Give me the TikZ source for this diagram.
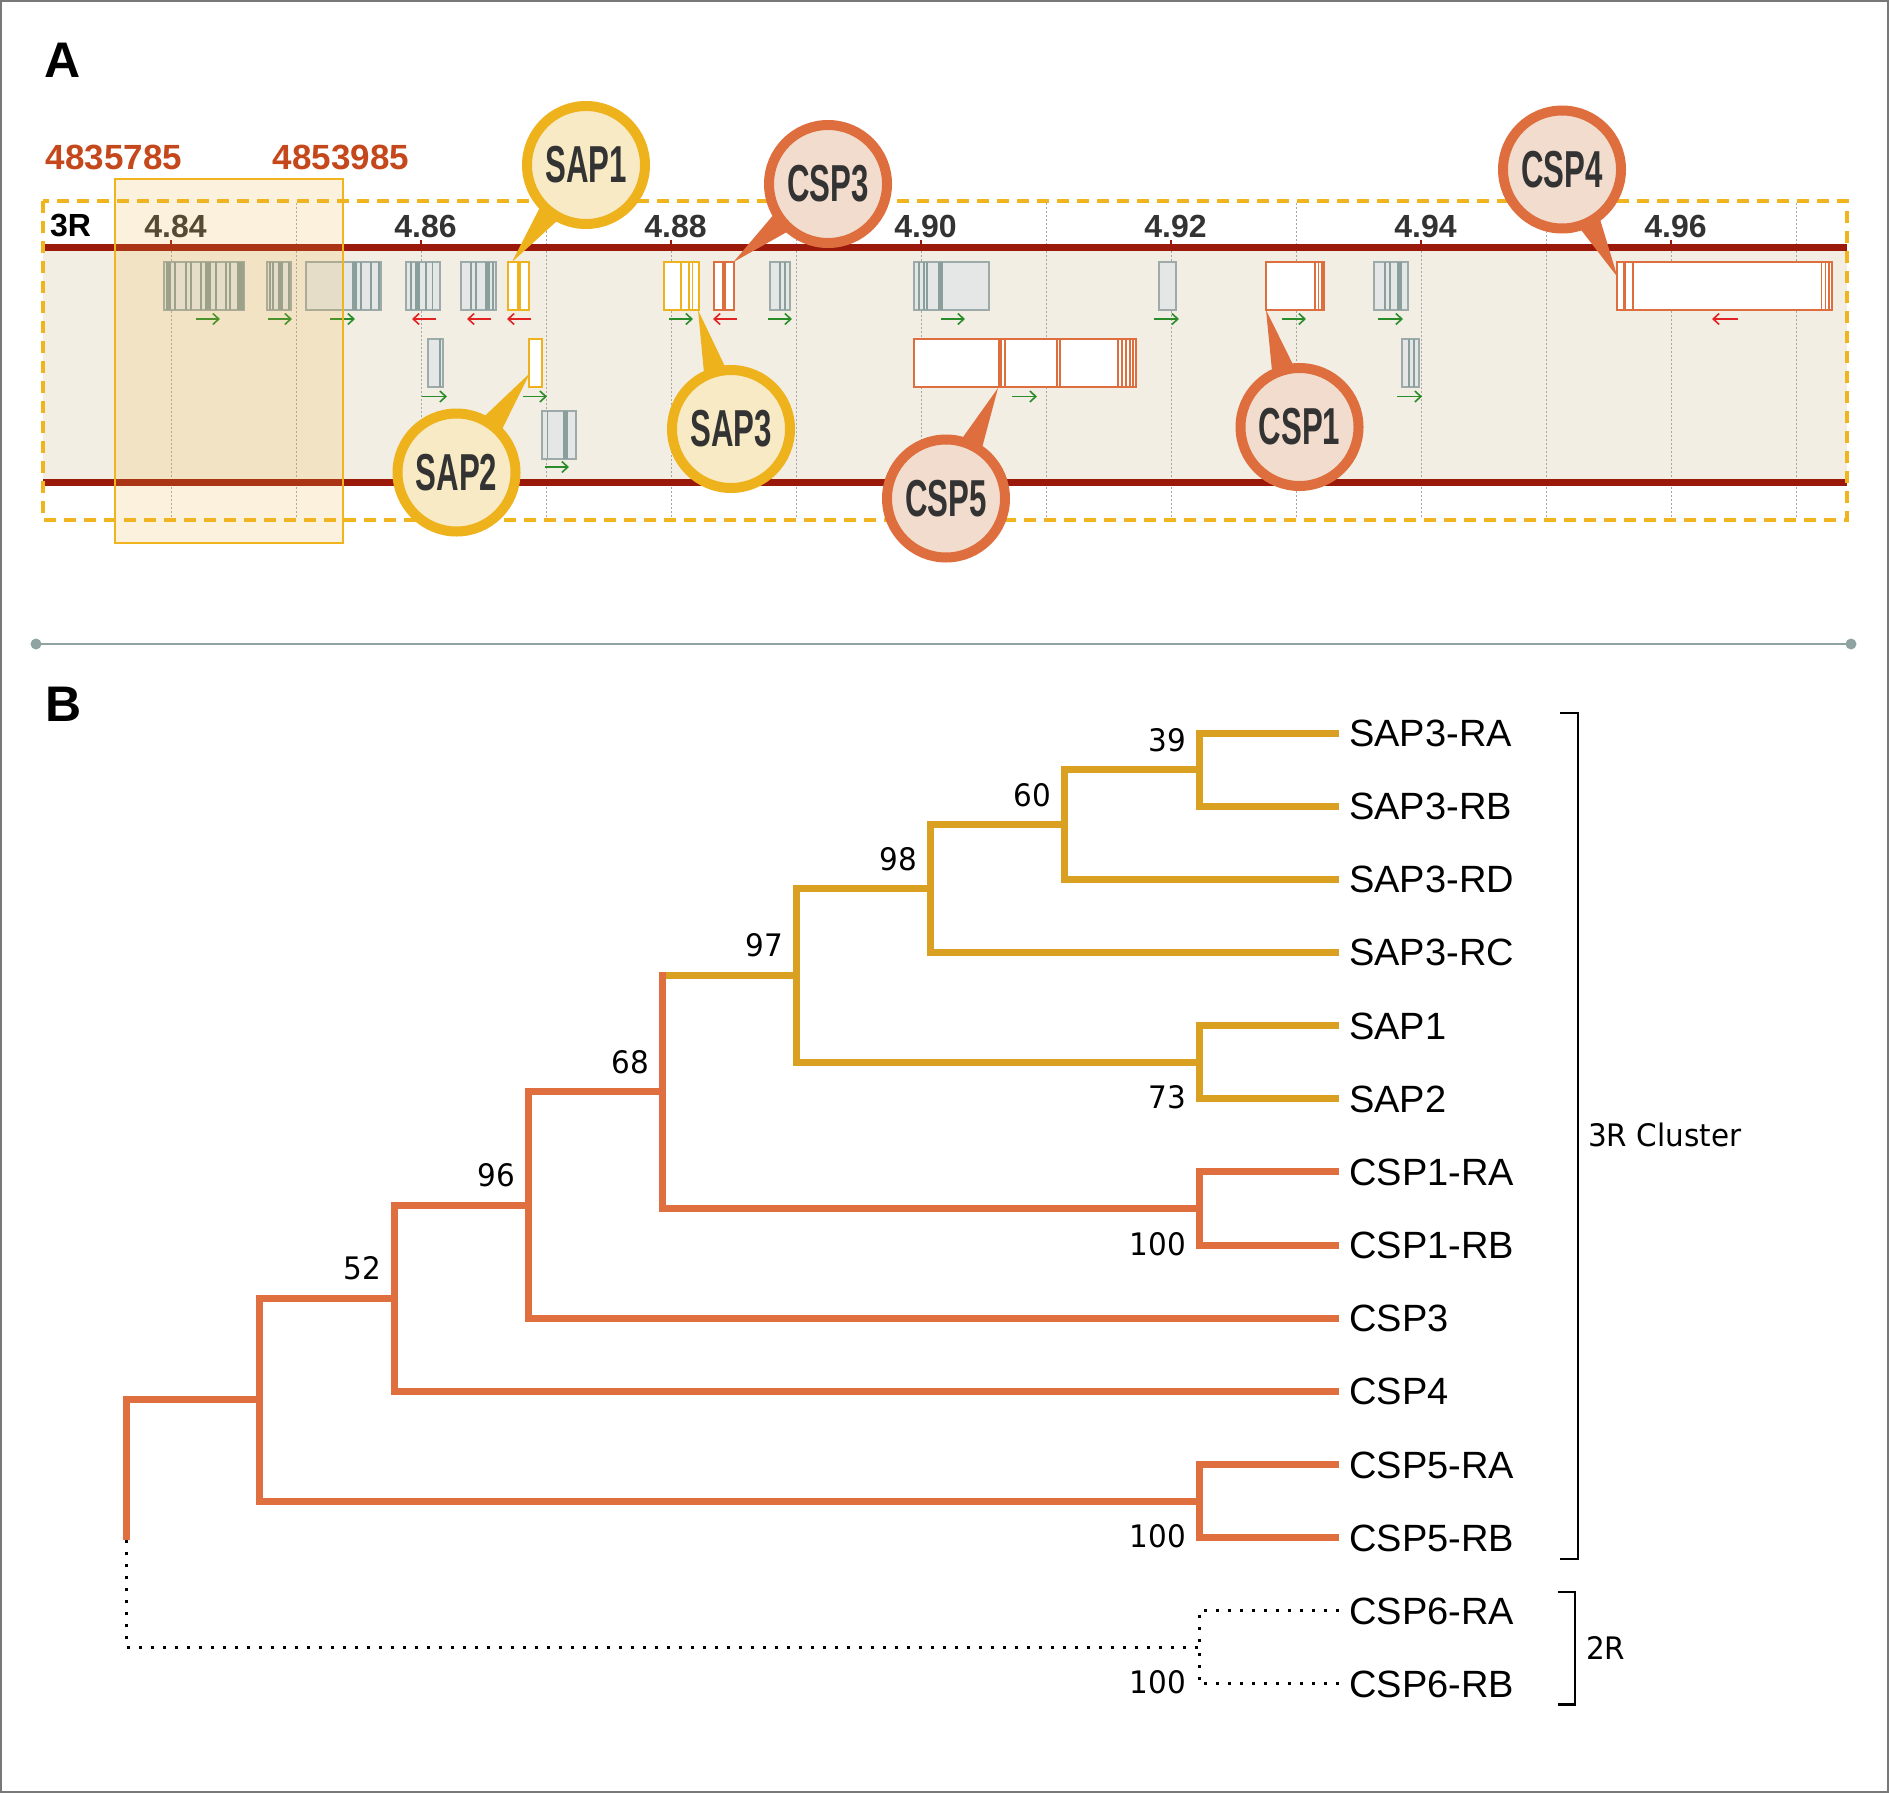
\documentclass[tikz,border=0pt]{standalone}
\usepackage{fontspec}
\usetikzlibrary{calc,arrows.meta}
\setmainfont{Liberation Sans}
\newfontfamily\condfont[FakeStretch=0.6]{Liberation Sans}
\newfontfamily\bootfam[FakeStretch=0.95]{DejaVu Sans}

\definecolor{framegray}{RGB}{120,120,120}
\definecolor{gridgray}{RGB}{165,165,165}
\definecolor{chromred}{RGB}{155,25,10}
\definecolor{dashgold}{RGB}{240,180,30}
\definecolor{beige}{RGB}{243,238,228}
\definecolor{hlgold}{RGB}{240,180,60}
\definecolor{sapgold}{RGB}{238,178,28}
\definecolor{sapfill}{RGB}{247,234,196}
\definecolor{cspor}{RGB}{222,110,62}
\definecolor{cspfill}{RGB}{242,220,205}
\definecolor{genegray}{RGB}{229,231,231}
\definecolor{geneline}{RGB}{157,170,170}
\definecolor{stripegray}{RGB}{138,158,156}
\definecolor{arrgreen}{RGB}{40,140,40}
\definecolor{arrred}{RGB}{225,35,35}
\definecolor{posred}{RGB}{196,72,28}
\definecolor{darktext}{RGB}{51,51,51}
\definecolor{treegold}{RGB}{217,160,33}
\definecolor{treeorange}{RGB}{223,111,63}
\definecolor{sepgray}{RGB}{143,163,160}

\newcommand{\ballfont}{\condfont\bfseries\fontsize{52}{52}\selectfont}
\newcommand{\tickfont}{\bfseries\fontsize{32}{32}\selectfont}
\newcommand{\posfont}{\bfseries\fontsize{35}{35}\selectfont}
\newcommand{\panelfont}{\bfseries\fontsize{50}{50}\selectfont}
\newcommand{\leaffont}{\fontsize{38}{38}\selectfont}
\newcommand{\bootfont}{\bootfam\fontsize{31}{31}\selectfont}

% balloon with a tail pointing at a gene
\newcommand{\callout}[5]{%
  \coordinate (#1c) at (#3);
  \fill[#2ring] let \p1=($(#4)-(#1c)$), \n1={atan2(\y1,\x1)} in
    (#4) -- ($(#1c)+(\n1+11:60pt)$) -- ($(#1c)+(\n1-11:60pt)$) -- cycle;
  \node[#2ball] (#1) at (#1c) {#5};
}

\tikzset{
  gbox/.style={draw=geneline, fill=genegray, line width=1.5pt},
  sapgene/.style={draw=sapgold, fill=white, line width=2pt},
  cspgene/.style={draw=cspor, fill=white, line width=2pt},
  fwd/.style={arrgreen, line width=1.6pt, -{Straight Barb[length=6pt,width=11pt]}},
  rev/.style={arrred, line width=1.6pt, -{Straight Barb[length=6pt,width=11pt]}},
  grid/.style={gridgray, line width=0.8pt, dash pattern=on 2pt off 2pt},
  ball/.style={circle, line width=10pt, minimum size=118pt, inner sep=0pt, font=\ballfont, text=darktext},
  sapball/.style={ball, draw=sapgold, fill=sapfill},
  cspball/.style={ball, draw=cspor, fill=cspfill},
  sapring/.style={fill=sapgold},
  cspring/.style={fill=cspor},
  sapbr/.style={treegold, line width=7pt, line join=miter},
  cspbr/.style={treeorange, line width=7pt, line join=miter},
  outbr/.style={black, line width=3pt, dash pattern=on 3pt off 9pt},
  leaf/.style={anchor=west, inner xsep=10pt, inner ysep=0pt, font=\leaffont, text height=27pt, text depth=0pt},
  bootl/.style={anchor=east, inner sep=0pt, font=\bootfont, text height=23pt, text depth=0pt},
  brk/.style={black, line width=2.5pt},
  clab/.style={anchor=west, inner sep=0pt, font=\bootfont}
}

\begin{document}
\begin{tikzpicture}[x=1pt,y=-1pt]
    \useasboundingbox (0,0) rectangle (1889,1793);
    \draw[framegray, line width=2pt] (1,1) rectangle (1888,1792);

    % ---- panel A ----
    \node[font=\panelfont] (labA) at (63,60) {A};

    \fill[beige] (43,251) rectangle (1847,479);
    \foreach \x in {296,546,...,1796}
        \draw[grid] (\x,203) -- (\x,518);
    \foreach \x in {171,421,...,1671} {
        \draw[grid] (\x,251) -- (\x,518);
        \draw[chromred, line width=1.5pt] (\x,240) -- (\x,247);
    }
    \draw[chromred, line width=7pt] (43,247.5) -- (1847,247.5);
    \draw[chromred, line width=7pt] (43,482) -- (1847,482);
    \draw[dashgold, line width=4pt, dash pattern=on 12pt off 8pt] (43,201) rectangle (1847,520);

    % genes
    \foreach \a/\b/\yy in {164/244/262, 267/291/262, 306/381/262, 406/440/262, 461/496/262,
        770/790/262, 914/989/262, 1159/1176/262, 1374/1408/262, 428/443/339, 1402/1419/339, 542/576/411}
        \draw[gbox] (\a,\yy) rectangle (\b,\yy+48);
    \foreach \s/\w/\yy in {166/5/262, 174/1.5/262, 185/1.5/262, 190/1.5/262, 200/1.5/262, 205/6/262,
        215/1.5/262, 225/1.5/262, 229/1.5/262, 237/7/262, 269/1.5/262, 272/1.5/262, 278/5/262,
        288/1.5/262, 352/5/262, 360/1.5/262, 370/2/262, 378/1.5/262, 410/1.5/262, 415/5/262,
        425/2/262, 431.5/1.5/262, 470/1.5/262, 475/1.5/262, 485/5/262, 492/1.5/262,
        779/1.5/262, 784/1.5/262, 918/1.5/262, 923/1.5/262, 926/1.5/262, 938/5/262,
        1384/1.5/262, 1389/1.5/262, 1397/5/262, 439/1.5/339, 1408/1.5/339, 1413/1.5/339,
        546.5/1.5/411, 563/4.5/411}
        \fill[stripegray] (\s,\yy) rectangle ++(\w,48);

    \draw[sapgene] (508,262) rectangle (529,310);
    \draw[sapgene] (529,339) rectangle (542,387);
    \draw[sapgene] (664,262) rectangle (699,310);
    \draw[cspgene] (714,262) rectangle (734,310);
    \draw[cspgene] (914,339) rectangle (1136,387);
    \draw[cspgene] (1266,262) rectangle (1324,310);
    \draw[cspgene] (1617,262) rectangle (1832,310);
    \foreach \s/\w in {516.5/4, 680/1.5, 688/1.5, 691.5/1.5}
        \fill[sapgold] (\s,262) rectangle ++(\w,48);
    \foreach \s/\w/\yy in {721.5/4.5/262, 998/4/339, 1004/1.5/339, 1056/1.5/339, 1059/1.5/339,
        1117/1.5/339, 1121/1.5/339, 1125/1.5/339, 1129/1.5/339, 1132/1.5/339,
        1314/1.5/262, 1317.5/1.5/262, 1321/1.5/262, 1623/3/262, 1632/1.5/262,
        1820.5/1.5/262, 1824.5/1.5/262, 1828/1.5/262}
        \fill[cspor] (\s,\yy) rectangle ++(\w,48);

    % strand arrows
    \foreach \a/\b/\y in {196/220/319, 268/292/319, 330/355/319, 669/693/319, 768/792/319,
        941/965/319, 1154/1179/319, 1282/1306/319, 1378/1403/319, 422/447/396.5,
        523/547/396.5, 1012/1037/396.5, 1397/1422/396.5, 545/569/467}
        \draw[fwd] (\a,\y) -- (\b,\y);
    \foreach \a/\b/\y in {436/412/319, 491/467/319, 531/507/319, 737/713/319, 1738/1712/319}
        \draw[rev] (\a,\y) -- (\b,\y);

    % axis labels
    \node[font=\tickfont, anchor=west, inner sep=0pt] (chr) at (50,226) {3R};
    \foreach \lab [count=\i from 0] in {4.84,4.86,4.88,4.90,4.92,4.94,4.96}
        \node[font=\tickfont, text=darktext, inner sep=0pt] (tick\i) at (175.5+250*\i,226) {\lab};

    % selected window
    \filldraw[fill=hlgold, fill opacity=0.18, draw=dashgold, line width=2pt] (115,179) rectangle (343,543);
    \node[font=\posfont, text=posred, inner sep=0pt] (posL) at (114,157) {4835785};
    \node[font=\posfont, text=posred, inner sep=0pt] (posR) at (341,157) {4853985};

    % callouts
    \coordinate (sap1tip) at (512,262);
    \coordinate (sap2tip) at (530,373);
    \coordinate (sap3tip) at (698,310);
    \coordinate (csp3tip) at (733.5,262);
    \coordinate (csp5tip) at (998,388);
    \coordinate (csp1tip) at (1266,310);
    \coordinate (csp4tip) at (1617.5,277);
    \callout{sap1}{sap}{586,165}{sap1tip}{SAP1}
    \callout{sap2}{sap}{456.5,472.5}{sap2tip}{SAP2}
    \callout{sap3}{sap}{731,429}{sap3tip}{SAP3}
    \callout{csp3}{csp}{828,184}{csp3tip}{CSP3}
    \callout{csp5}{csp}{946,498.5}{csp5tip}{CSP5}
    \callout{csp1}{csp}{1299.5,427}{csp1tip}{CSP1}
    \callout{csp4}{csp}{1562,169.5}{csp4tip}{CSP4}

    % ---- separator ----
    \coordinate (sepL) at (36,644);
    \coordinate (sepR) at (1851,644);
    \draw[sepgray, line width=2.5pt] (sepL) -- (sepR);
    \fill[sepgray] (sepL) circle (5.5pt) (sepR) circle (5.5pt);

    % ---- panel B ----
    \node[font=\panelfont] (labB) at (64,704) {B};

    \foreach \nm/\lab [count=\i from 0] in {l0/SAP3-RA, l1/SAP3-RB, l2/SAP3-RD, l3/SAP3-RC, l4/SAP1,
        l5/SAP2, l6/CSP1-RA, l7/CSP1-RB, l8/CSP3, l9/CSP4, l10/CSP5-RA, l11/CSP5-RB,
        l12/CSP6-RA, l13/CSP6-RB}
        \node[leaf] (\nm) at (1339,733+73.15*\i) {\lab};

    \coordinate (n39) at (1199,769.6);
    \coordinate (n60) at (1064,824.5);
    \coordinate (n98) at (930,888.5);
    \coordinate (n73) at (1199,1062.2);
    \coordinate (n97) at (796,975.3);
    \coordinate (ncsp1) at (1199,1208.5);
    \coordinate (n68) at (662,1091.9);
    \coordinate (n96) at (528,1205.1);
    \coordinate (n52) at (394,1298.2);
    \coordinate (ncsp5) at (1199,1501.1);
    \coordinate (n1) at (259,1399.7);
    \coordinate (ncsp6) at (1199,1647.4);
    \coordinate (root) at (126,1399.7);
    \coordinate (rootbrk) at (126,1540);

    \draw[sapbr] (l0.west) -| (n39);
    \draw[sapbr] (l1.west) -| (n39);
    \draw[sapbr] (n39) -| (n60);
    \draw[sapbr] (l2.west) -| (n60);
    \draw[sapbr] (n60) -| (n98);
    \draw[sapbr] (l3.west) -| (n98);
    \draw[sapbr] (l4.west) -| (n73);
    \draw[sapbr] (l5.west) -| (n73);
    \draw[sapbr] (n98) -| (n97);
    \draw[sapbr] (n73) -| (n97);
    \draw[sapbr] (n97) -- (n97 -| n68);
    \draw[cspbr] ($(n97 -| n68)+(0,-3.5)$) -- (n68);
    \draw[cspbr] (l6.west) -| (ncsp1);
    \draw[cspbr] (l7.west) -| (ncsp1);
    \draw[cspbr] (ncsp1) -| (n68);
    \draw[cspbr] (n68) -| (n96);
    \draw[cspbr] (l8.west) -| (n96);
    \draw[cspbr] (n96) -| (n52);
    \draw[cspbr] (l9.west) -| (n52);
    \draw[cspbr] (l10.west) -| (ncsp5);
    \draw[cspbr] (l11.west) -| (ncsp5);
    \draw[cspbr] (n52) -| (n1);
    \draw[cspbr] (ncsp5) -| (n1);
    \draw[cspbr] (n1) -- (root) -- (rootbrk);
    \draw[outbr] (rootbrk) |- (ncsp6);
    \draw[outbr] (l12.west) -| (ncsp6);
    \draw[outbr] (l13.west) -| (ncsp6);

    % support values
    \node[bootl] (b39) at ($(n39)+(-13,-30)$) {39};
    \node[bootl] (b60) at ($(n60)+(-13,-30)$) {60};
    \node[bootl] (b98) at ($(n98)+(-13,-30)$) {98};
    \node[bootl] (b97) at ($(n97)+(-13,-30)$) {97};
    \node[bootl] (b68) at ($(n68)+(-13,-30)$) {68};
    \node[bootl] (b96) at ($(n96)+(-13,-30)$) {96};
    \node[bootl] (b52) at ($(n52)+(-13,-30)$) {52};
    \node[bootl] (b73) at ($(n73)+(-13,35)$) {73};
    \node[bootl] (bcsp1) at ($(ncsp1)+(-13,35)$) {100};
    \node[bootl] (bcsp5) at ($(ncsp5)+(-13,35)$) {100};
    \node[bootl] (bcsp6) at ($(ncsp6)+(-13,35)$) {100};

    % clusters
    \coordinate (br3t) at (1578,713);
    \coordinate (br3b) at (1578,1559);
    \coordinate (br2t) at (1575,1592);
    \coordinate (br2b) at (1575,1704.5);
    \draw[brk] ($(br3t)+(-18,0)$) -- (br3t) -- (br3b) -- ++(-18,0);
    \draw[brk] ($(br2t)+(-17,0)$) -- (br2t) -- (br2b) -- ++(-17,0);
    \node[clab] (c3r) at (1588,1135) {3R Cluster};
    \node[clab] (c2r) at (1586,1648) {2R};
\end{tikzpicture}
\end{document}
